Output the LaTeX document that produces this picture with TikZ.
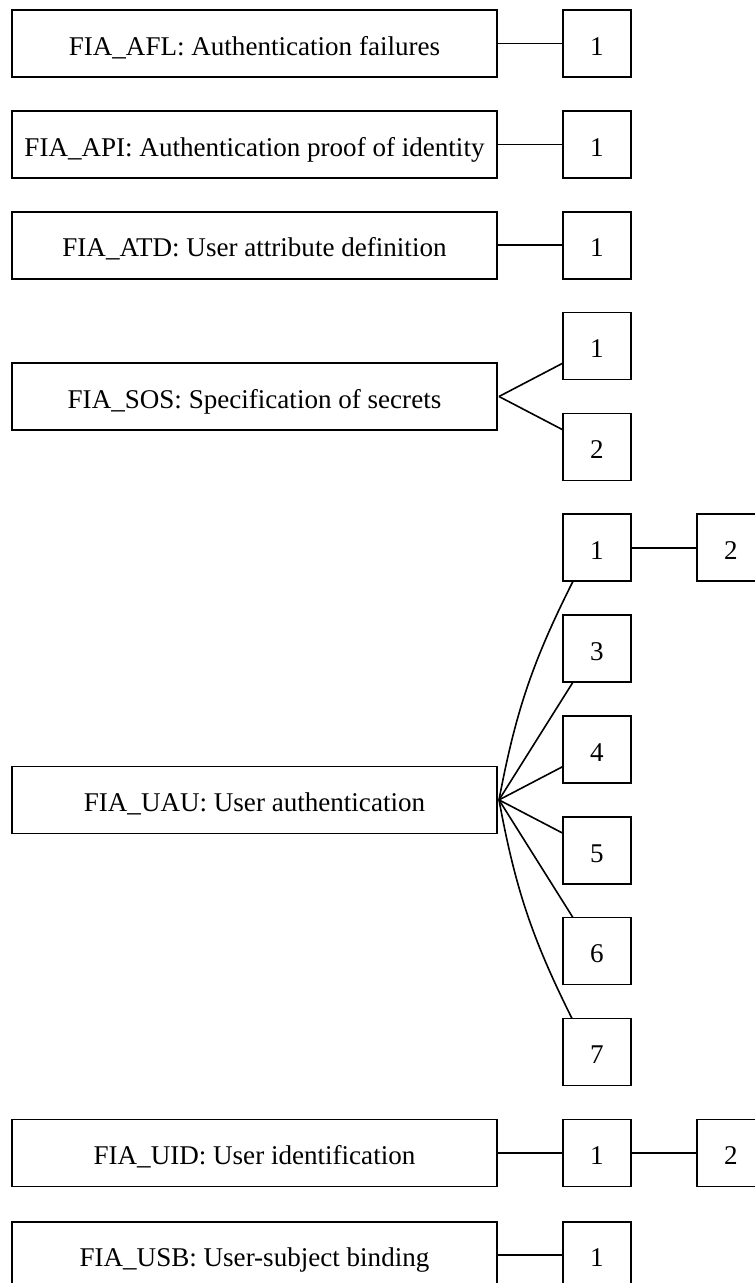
\documentclass[tikz,border=0pt]{standalone}
\usepackage{fontspec}
\setmainfont{Liberation Serif}
\usetikzlibrary{calc}
\begin{document}
\begin{tikzpicture}[x=0.75pt,y=-0.75pt,
  every node/.style={font=\fontsize{20.3}{24}\selectfont},
  famBox/.style={draw,line width=1.2pt,inner sep=0pt,outer sep=0pt,minimum width=363.75pt,minimum height=50.25pt,text height=17.6pt,text depth=0pt},
  numBox/.style={draw,line width=1.2pt,inner sep=0pt,outer sep=0pt,minimum width=51pt,minimum height=50.25pt,text height=17.6pt,text depth=0pt},
  link/.style={line width=1.2pt}]
\useasboundingbox (0,0) rectangle (755,1283);
\fill[white] (0,0) rectangle (755,1283);
% family boxes
\node[famBox] (afl) at (254.5,43.5) {FIA\_AFL: Authentication failures};
\node[famBox] (api) at (254.5,144.35) {FIA\_API: Authentication proof of identity};
\node[famBox] (atd) at (254.5,245.2) {FIA\_ATD: User attribute definition};
\node[famBox] (sos) at (254.5,396.5) {FIA\_SOS: Specification of secrets};
\node[famBox] (uau) at (254.5,799.9) {FIA\_UAU: User authentication};
\node[famBox] (uid) at (254.5,1152.85) {FIA\_UID: User identification};
\node[famBox] (usb) at (254.5,1255.2) {FIA\_USB: User-subject binding};
% component boxes
\node[numBox] (afl1) at (597,43.5) {1};
\node[numBox] (api1) at (597,144.35) {1};
\node[numBox] (atd1) at (597,245.2) {1};
\node[numBox] (sos1) at (597,346.05) {1};
\node[numBox] (sos2) at (597,446.9) {2};
\node[numBox] (uau1) at (597,547.75) {1};
\node[numBox] (uau2) at (731,547.75) {2};
\node[numBox] (uau3) at (597,648.6) {3};
\node[numBox] (uau4) at (597,749.45) {4};
\node[numBox] (uau5) at (597,850.3) {5};
\node[numBox] (uau6) at (597,951.15) {6};
\node[numBox] (uau7) at (597,1052) {7};
\node[numBox] (uid1) at (597,1152.85) {1};
\node[numBox] (uid2) at (731,1152.85) {2};
\node[numBox] (usb1) at (597,1255.2) {1};
% connectors
\draw[link] (afl.east) -- (afl1.west);
\draw[link] (api.east) -- (api1.west);
\draw[link] (atd.east) -- (atd1.west);
\coordinate (sosF) at ($(sos.east)+(2,0)$);
\draw[link] (sosF) -- ($(sos1.west)+(0,17)$);
\draw[link] (sosF) -- ($(sos2.west)+(0,-17)$);
\coordinate (uauF) at ($(uau.east)+(2,0)$);
\draw[link] (uauF) to[bend left=8] ($(uau1.south west)+(10,0)$);
\draw[link] (uauF) -- ($(uau3.south west)+(10,0)$);
\draw[link] (uauF) -- ($(uau4.west)+(0,17)$);
\draw[link] (uauF) -- ($(uau5.west)+(0,-17)$);
\draw[link] (uauF) -- ($(uau6.north west)+(10,0)$);
\draw[link] (uauF) to[bend right=8] ($(uau7.north west)+(9,0)$);
\draw[link] (uau1.east) -- (uau2.west);
\draw[link] (uid.east) -- (uid1.west);
\draw[link] (uid1.east) -- (uid2.west);
\draw[link] (usb.east) -- (usb1.west);
\end{tikzpicture}
\end{document}
